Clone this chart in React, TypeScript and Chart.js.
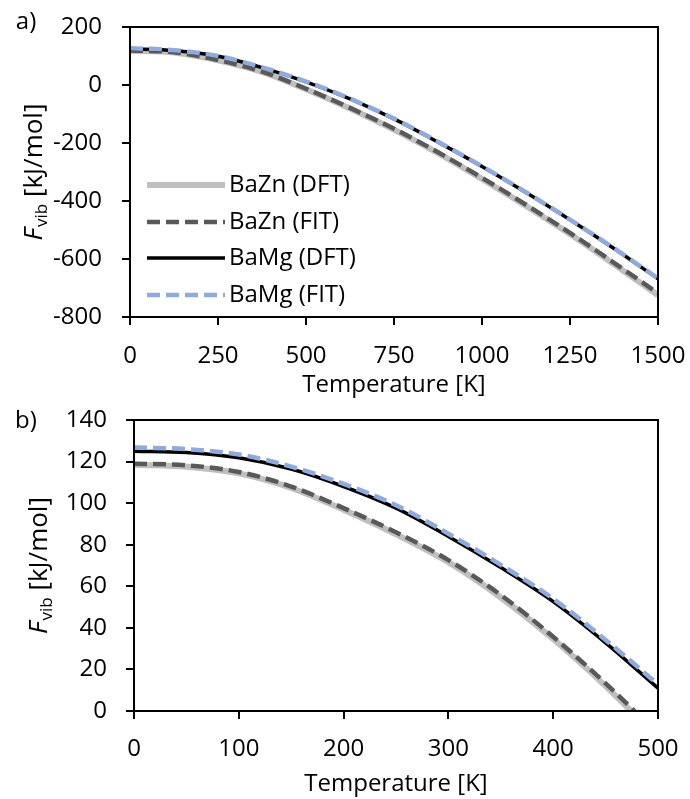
import React, { useEffect, useRef } from 'react';
import { Chart, registerables } from 'chart.js';

Chart.register(...registerables);

const FONT = "'Open Sans', sans-serif";

// ---------- data: panel a) ----------
const TEMP_A = [0, 125, 250, 375, 500, 625, 750, 875, 1000, 1125, 1250, 1375, 1500];
const BAZN_DFT_A = [118.5, 112, 85, 45, -15, -81, -154, -235, -324, -417, -514, -618, -725];
const BAZN_FIT_A = [119, 113, 86, 46, -13, -79, -151, -232, -320, -413, -510, -613, -718];
const BAMG_DFT_A = [125, 119, 99, 60, 11, -48, -117, -197, -281, -371, -465, -564, -668];
const BAMG_FIT_A = [127, 120, 100, 61, 12, -47, -116, -196, -280, -370, -464, -563, -667];

// ---------- data: panel b) ----------
const TEMP_B = [0, 50, 100, 150, 200, 250, 300, 350, 400, 450, 500];
const BAZN_DFT_B = [118.5, 117.5, 114.3, 107.3, 96.8, 85, 71.6, 54.6, 34.6, 12, -13];
const BAZN_FIT_B = [119, 118.2, 115, 108, 97.6, 86, 72.6, 55.8, 35.7, 13.3, -11];
const BAMG_DFT_B = [125, 124.4, 121.8, 116.4, 108, 97.6, 84, 69, 52.6, 32.8, 11];
const BAMG_FIT_B = [126.8, 126, 123.4, 117.6, 109.3, 99, 85.3, 70.3, 54, 34.2, 12.8];

const SERIES_LABELS = ['BaZn (DFT)', 'BaZn (FIT)', 'BaMg (DFT)', 'BaMg (FIT)'];

// axis ranges / ticks
const X_A = { min: 0, max: 1500, step: 250 };
const Y_A = { min: -800, max: 200, step: 200 };
const X_B = { min: 0, max: 500, step: 100 };
const Y_B = { min: 0, max: 140, step: 20 };

const X_TITLE = 'Temperature [K]';

// styles
const STYLES = [
  { color: '#BFBFBF', width: 6, dash: [] as number[], order: 4 },
  { color: '#595959', width: 4.5, dash: [13, 6], order: 3 },
  { color: '#000000', width: 3.5, dash: [] as number[], order: 2 },
  { color: '#8FAADC', width: 4.5, dash: [13, 6], order: 1 },
];

function buildDatasets(temps: number[], series: number[][]) {
  return series.map((vals, i) => ({
    label: SERIES_LABELS[i],
    data: temps.map((t, j) => ({ x: t, y: vals[j] })),
    borderColor: STYLES[i].color,
    backgroundColor: STYLES[i].color,
    borderWidth: STYLES[i].width,
    borderDash: STYLES[i].dash,
    borderCapStyle: 'butt',
    order: STYLES[i].order,
    pointRadius: 0,
    cubicInterpolationMode: 'monotone',
    fill: false,
    clip: 0,
  }));
}

const framePlugin = {
  id: 'frame',
  afterDraw(chart: any) {
    const { ctx, chartArea } = chart;
    ctx.save();
    ctx.strokeStyle = '#000';
    ctx.lineWidth = 2;
    ctx.strokeRect(chartArea.left, chartArea.top, chartArea.right - chartArea.left, chartArea.bottom - chartArea.top);
    ctx.restore();
  },
};

function makeDecorPlugin(panel: string, titleX: number, labelY: number) {
  return {
    id: 'decor_' + panel,
    afterDraw(chart: any) {
      const { ctx, chartArea } = chart;
      ctx.save();
      ctx.fillStyle = '#000';
      // panel label
      ctx.font = `24px ${FONT}`;
      ctx.textAlign = 'center';
      ctx.textBaseline = 'middle';
      ctx.fillText(panel, 26, labelY);
      // y title
      const cy = (chartArea.top + chartArea.bottom) / 2;
      ctx.translate(titleX, cy);
      ctx.rotate(-Math.PI / 2);
      ctx.textAlign = 'left';
      ctx.textBaseline = 'alphabetic';
      const fMain = `26px ${FONT}`;
      const fIt = `italic 26px ${FONT}`;
      const fSub = `17px ${FONT}`;
      ctx.font = fIt;
      const wF = ctx.measureText('F').width;
      ctx.font = fSub;
      const wS = ctx.measureText('vib').width;
      ctx.font = fMain;
      const wR = ctx.measureText(' [kJ/mol]').width;
      let x = -(wF + 1 + wS + wR) / 2;
      ctx.font = fIt;
      ctx.fillText('F', x, 0);
      x += wF + 1;
      ctx.font = fSub;
      ctx.fillText('vib', x, 5);
      x += wS;
      ctx.font = fMain;
      ctx.fillText(' [kJ/mol]', x, 0);
      ctx.restore();
    },
  };
}

const LEGEND_ROWS = [185, 222, 258, 295];
const innerLegendPlugin = {
  id: 'innerLegend',
  afterDraw(chart: any) {
    const { ctx } = chart;
    ctx.save();
    chart.data.datasets.forEach((ds: any, i: number) => {
      const y = LEGEND_ROWS[i];
      ctx.beginPath();
      ctx.strokeStyle = ds.borderColor;
      ctx.lineWidth = ds.borderWidth;
      ctx.setLineDash(ds.borderDash || []);
      ctx.lineCap = 'butt';
      ctx.moveTo(147, y);
      ctx.lineTo(225, y);
      ctx.stroke();
      ctx.setLineDash([]);
      ctx.fillStyle = '#000';
      ctx.font = `24px ${FONT}`;
      ctx.textAlign = 'left';
      ctx.textBaseline = 'middle';
      ctx.fillText(ds.label, 229, y);
    });
    ctx.restore();
  },
};

function axisOptions(
  xr: { min: number; max: number; step: number },
  yr: { min: number; max: number; step: number },
  yWidth: number,
  xHeight: number,
  yPad: number,
  xPad: number,
) {
  const tickFont = { size: 24, family: FONT };
  const grid = { display: true, drawOnChartArea: false, drawTicks: true, tickLength: 8, color: '#000', lineWidth: 2 };
  const border = { display: true, color: '#000', width: 2 };
  return {
    x: {
      type: 'linear',
      min: xr.min,
      max: xr.max,
      ticks: { stepSize: xr.step, font: tickFont, color: '#000', padding: xPad, maxRotation: 0, autoSkip: false, callback: (v: any) => String(v) },
      grid,
      border,
      title: { display: true, text: X_TITLE, font: { size: 24, family: FONT }, color: '#000', padding: { top: 0, bottom: 0 } },
      afterFit: (s: any) => {
        s.height = xHeight;
        s.paddingLeft = 0;
        s.paddingRight = 0;
      },
    },
    y: {
      type: 'linear',
      min: yr.min,
      max: yr.max,
      ticks: { stepSize: yr.step, font: tickFont, color: '#000', padding: yPad, autoSkip: false, callback: (v: any) => String(v) },
      grid,
      border,
      afterFit: (s: any) => {
        s.width = yWidth;
        s.paddingTop = 0;
        s.paddingBottom = 0;
      },
    },
  };
}

export default function App() {
  const refA = useRef<HTMLCanvasElement | null>(null);
  const refB = useRef<HTMLCanvasElement | null>(null);

  useEffect(() => {
    Chart.defaults.font.family = FONT;
    const chartA = new Chart(refA.current as HTMLCanvasElement, {
      type: 'line',
      data: { datasets: buildDatasets(TEMP_A, [BAZN_DFT_A, BAZN_FIT_A, BAMG_DFT_A, BAMG_FIT_A]) as any },
      options: {
        animation: false,
        responsive: false,
        layout: { padding: { top: 27, right: 32, bottom: 0, left: 0 } },
        plugins: { legend: { display: false }, tooltip: { enabled: false } },
        scales: axisOptions(X_A, Y_A, 130, 83, 20, 17) as any,
      },
      plugins: [framePlugin, makeDecorPlugin('a)', 42, 22), innerLegendPlugin],
    });
    const chartB = new Chart(refB.current as HTMLCanvasElement, {
      type: 'line',
      data: { datasets: buildDatasets(TEMP_B, [BAZN_DFT_B, BAZN_FIT_B, BAMG_DFT_B, BAMG_FIT_B]) as any },
      options: {
        animation: false,
        responsive: false,
        layout: { padding: { top: 20, right: 32, bottom: 0, left: 0 } },
        plugins: { legend: { display: false }, tooltip: { enabled: false } },
        scales: axisOptions(X_B, Y_B, 134, 88, 19, 16) as any,
      },
      plugins: [framePlugin, makeDecorPlugin('b)', 47, 21)],
    });
    return () => {
      chartA.destroy();
      chartB.destroy();
    };
  }, []);

  return (
    <div style={{ position: 'absolute', left: 0, top: 0, width: 690, height: 799, background: '#fff' }}>
      <canvas ref={refA} width={690} height={400} style={{ display: 'block', width: 690, height: 400 }} />
      <canvas ref={refB} width={690} height={399} style={{ display: 'block', width: 690, height: 399 }} />
    </div>
  );
}
